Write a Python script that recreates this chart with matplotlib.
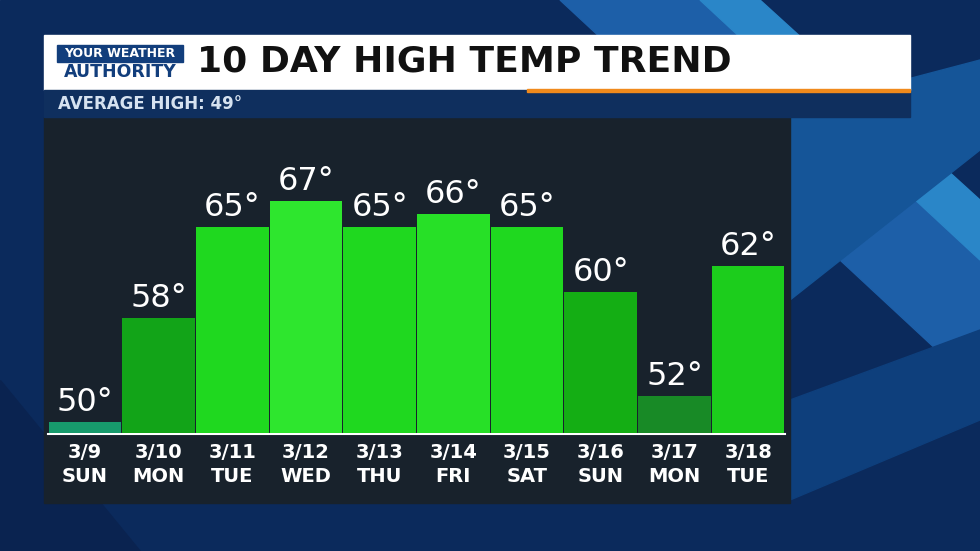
import matplotlib
matplotlib.use("Agg")
import matplotlib.pyplot as plt
from matplotlib.patches import Rectangle, Polygon

dates = ["3/9", "3/10", "3/11", "3/12", "3/13", "3/14", "3/15", "3/16", "3/17", "3/18"]
days = ["SUN", "MON", "TUE", "WED", "THU", "FRI", "SAT", "SUN", "MON", "TUE"]
highs = [50, 58, 65, 67, 65, 66, 65, 60, 52, 62]
bar_colors = ["#179a6c", "#12a418", "#1fd81f", "#2ee62e", "#1fd81f", "#27e027",
              "#1fd81f", "#14ae14", "#188a26", "#1ccd1c"]
avg_high = 49

NARROW = ["Liberation Sans Narrow", "DejaVu Sans Condensed", "DejaVu Sans"]

W, H = 980, 551
fig = plt.figure(figsize=(9.8, 5.51), dpi=100)
bg = fig.add_axes([0, 0, 1, 1])
bg.set_xlim(0, W)
bg.set_ylim(H, 0)
bg.axis("off")

# background with diagonal stripes
bg.add_patch(Rectangle((0, 0), W, H, color="#0b2a5c", zorder=0))
stripes = [
    ([(560, 0), (700, 0), (980, 260), (980, 390)], "#1d5fa8"),
    ([(700, 0), (760, 0), (980, 200), (980, 260)], "#2a86c8"),
    ([(0, 380), (0, 551), (140, 551)], "#0a2350"),
    ([(790, 110), (980, 60), (980, 150), (790, 300)], "#155598"),
    ([(790, 400), (980, 330), (980, 420), (790, 500)], "#0e3f7c"),
]
for pts, c in stripes:
    bg.add_patch(Polygon(pts, closed=True, color=c, zorder=1))

# panels
bg.add_patch(Rectangle((44, 117), 746, 386, color="#18222c", zorder=2))
bg.add_patch(Rectangle((44, 35), 866, 55, color="white", zorder=2))
bg.add_patch(Rectangle((44, 90), 866, 27, color="#0f2f5e", zorder=2))
bg.add_patch(Rectangle((527, 89), 383, 3, color="#f08a1c", zorder=3))

# logo
bg.add_patch(Rectangle((57, 45), 126, 17, color="#123e7c", zorder=3))
bg.text(120, 53.5, "YOUR WEATHER", color="white", fontsize=9, fontweight="bold",
        ha="center", va="center", family=NARROW, zorder=4)
bg.text(120, 72, "AUTHORITY", color="#123e7c", fontsize=12.5, fontweight="bold",
        ha="center", va="center", family=NARROW, zorder=4)
bg.text(197, 62, "10 DAY HIGH TEMP TREND", color="#111111", fontsize=26,
        fontweight="bold", ha="left", va="center", family="DejaVu Sans", zorder=4)
bg.text(58, 104, f"AVERAGE HIGH: {avg_high}°", color="#d6e2f0", fontsize=12,
        fontweight="bold", ha="left", va="center", zorder=4)

# bars
base = 50 - 11 / 13
top = base + 316 / 13
ax = fig.add_axes([48 / W, (H - 433) / H, 737 / W, 316 / H])
ax.set_xlim(-0.5, 9.5)
ax.set_ylim(base, top)
ax.axis("off")
ax.patch.set_alpha(0)
x = range(len(highs))
ax.bar(x, [h - base for h in highs], bottom=base, width=0.985, color=bar_colors,
       linewidth=0)
for i, h in enumerate(highs):
    ax.text(i, h + 0.3, f"{h}°", color="white", fontsize=23, ha="center", va="bottom",
            family=NARROW)

bg.plot([48, 785], [433.5, 433.5], color="white", lw=1.5, zorder=5)
for i in range(10):
    cx = 48 + 73.7 * (i + 0.5)
    bg.text(cx, 453, dates[i], color="white", fontsize=14, fontweight="bold",
            ha="center", va="center", family=NARROW, zorder=5)
    bg.text(cx, 477, days[i], color="white", fontsize=14, fontweight="bold",
            ha="center", va="center", family=NARROW, zorder=5)

fig.savefig("out.png", dpi=100)
